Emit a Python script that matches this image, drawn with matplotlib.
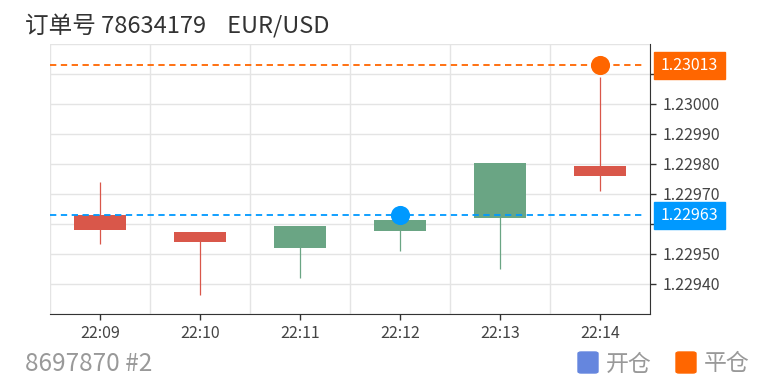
import matplotlib
matplotlib.use('Agg')
import matplotlib.pyplot as plt
import matplotlib.transforms as mtransforms
from matplotlib.patches import Rectangle, FancyBboxPatch
from matplotlib.ticker import FixedLocator

plt.rcParams['font.family'] = ['Noto Sans CJK SC', 'DejaVu Sans']

# candle data
times = ['22:09', '22:10', '22:11', '22:12', '22:13', '22:14']
opens = [1.229580, 1.229539, 1.229593, 1.229613, 1.229802, 1.229760]
closes = [1.229630, 1.229574, 1.229519, 1.229578, 1.229619, 1.229793]
lows = [1.229533, 1.229362, 1.229421, 1.229511, 1.229451, 1.229711]
highs = [1.229740, 1.229574, 1.229593, 1.229613, 1.229802, 1.230091]

# order info
order_no = '78634179'
symbol = 'EUR/USD'
account = '8697870 #2'
open_idx, open_price = 3, 1.22963
close_idx, close_price = 5, 1.23013
legend_labels = ['开仓', '平仓']

y_min, y_max, y_step = 1.22930, 1.23020, 0.0001

up_color = '#d9574a'
down_color = '#6aa584'
open_color = '#0099ff'
close_color = '#ff6600'
legend_colors = ['#6586de', '#ff6600']

W, H = 775, 387
fig = plt.figure(figsize=(W / 100, H / 100), dpi=100)
ax = fig.add_axes([50 / W, 1 - 314 / H, 600 / W, 270 / H])

x = list(range(len(times)))
colors = [up_color if c >= o else down_color for o, c in zip(opens, closes)]
ax.vlines(x, lows, highs, colors=colors, linewidth=0.9, zorder=2)
ax.bar(x, [c - o for o, c in zip(opens, closes)], bottom=opens, width=0.52,
       color=colors, zorder=3)

# open / close lines and markers
ax.plot([-0.5, 5.45], [open_price, open_price], ls=(0, (3.5, 2.5)), color=open_color, lw=1.3, zorder=4)
ax.plot([-0.5, 5.45], [close_price, close_price], ls=(0, (3.5, 2.5)), color=close_color, lw=1.3, zorder=4)
ax.scatter([open_idx], [open_price], s=190, color=open_color, zorder=5, linewidths=0)
ax.scatter([close_idx], [close_price], s=190, color=close_color, zorder=5, linewidths=0)

ax.set_xlim(-0.5, len(times) - 0.5)
ax.set_ylim(y_min, y_max)
ax.set_xticks(x)
ax.set_xticklabels(times)
ax.xaxis.set_minor_locator(FixedLocator([i - 0.5 for i in range(len(times) + 1)]))
ax.grid(True, which='minor', axis='x', color='#e4e4e4', lw=1, zorder=0)

ax.yaxis.tick_right()
yt = [round(y_min + y_step * i, 5) for i in range(1, 9)]
ax.set_yticks(yt)
ax.set_yticklabels(['' if abs(v - open_price) < 5e-5 or abs(v - close_price) < 5e-5 else f'{v:.5f}' for v in yt])
for i in range(10):
    ax.axhline(y_min + y_step * i, color='#e4e4e4', lw=1, zorder=0)

ax.tick_params(axis='both', labelsize=11.5, colors='#333333', labelcolor='#444444', length=4, width=1)
ax.tick_params(axis='y', pad=5)
ax.tick_params(axis='x', pad=4)
ax.tick_params(which='minor', length=0)
ax.spines['top'].set_visible(False)
ax.spines['left'].set_visible(False)
ax.spines['right'].set_color('#333333')
ax.spines['bottom'].set_color('#333333')

# price tags on the right axis
trans = mtransforms.blended_transform_factory(ax.transAxes, ax.transData)
for price, col in [(close_price, close_color), (open_price, open_color)]:
    ax.add_patch(Rectangle((604 / 600, price - 0.000045), 71 / 600, 0.00009,
                           transform=trans, color=col, clip_on=False, zorder=6))
    ax.text(639.5 / 600, price, f'{price:.5f}', transform=trans, color='white',
            fontsize=11.5, ha='center', va='center', zorder=7)

# title and footer
fig.text(25 / W, 1 - 27 / H, f'订单号 {order_no}    {symbol}', fontsize=17, color='#333333',
         ha='left', va='center')
fig.text(25 / W, 1 - 364 / H, account, fontsize=17.5, color='#999999', ha='left', va='center')

# legend
for i, (lab, col) in enumerate(zip(legend_labels, legend_colors)):
    x0 = 578 + i * 98
    fig.patches.append(FancyBboxPatch((x0 / W, 1 - 373 / H), 20 / W, 21 / H,
                                      boxstyle='round,pad=0,rounding_size=0.004',
                                      transform=fig.transFigure, color=col, figure=fig))
    fig.text((x0 + 28) / W, 1 - 364 / H, lab, fontsize=16.5, color='#999999', ha='left', va='center')

fig.savefig('out.png', dpi=100)
